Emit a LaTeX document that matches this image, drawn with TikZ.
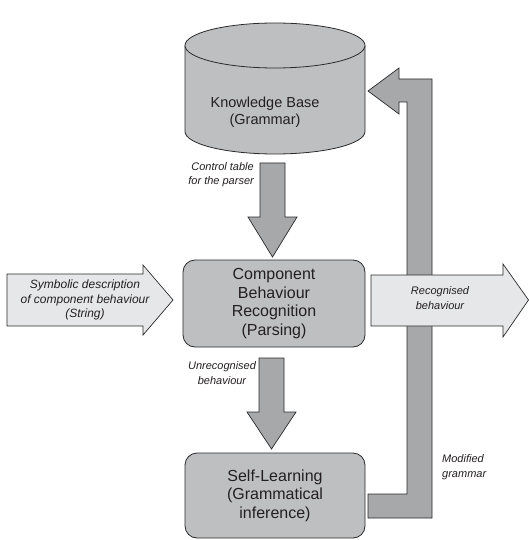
\documentclass[tikz,border=0pt]{standalone}
\usepackage{fontspec}
\setmainfont{Liberation Sans}
\definecolor{boxgrey}{HTML}{BEBFC1}
\definecolor{arrowgrey}{HTML}{A7A8AA}
\definecolor{lightgrey}{HTML}{E6E7E8}
\definecolor{edge}{HTML}{2A2A2A}
\definecolor{ink}{HTML}{231F20}
\tikzset{
  procbox/.style={draw=edge, line width=0.8pt, fill=boxgrey, rounded corners=12pt, text=ink,
    align=center, font=\fontsize{16}{18.5}\selectfont, inner sep=0pt},
  darkarrow/.style={draw=edge, line width=0.7pt, fill=arrowgrey, line join=miter},
  lightarrow/.style={draw=edge, line width=0.7pt, fill=lightgrey, line join=miter},
  cyl/.style={draw=edge, line width=0.8pt, fill=boxgrey},
  lbl/.style={text=ink, font=\fontsize{11}{14.5}\selectfont\itshape, inner sep=0pt},
  biglbl/.style={text=ink, font=\fontsize{12}{14.5}\selectfont\itshape, inner sep=0pt},
  maintext/.style={text=ink, align=center, font=\fontsize{14.5}{17}\selectfont, inner sep=0pt}
}
\begin{document}
\begin{tikzpicture}[x={(1pt,0)}, y={(0,-1pt)}]
\useasboundingbox (0,0) rectangle (529,540);
% feedback hook arrow (behind)
\draw[darkarrow] (368,91) -- (399,68) -- (399,79) -- (432,79) -- (432,518) -- (368,518)
  -- (368,494) -- (407,494) -- (407,102) -- (399,102) -- (399,114) -- cycle;
% knowledge base cylinder
\draw[cyl] (185,45.5) -- (185,131.5) arc[start angle=180, end angle=360, x radius=90pt, y radius=22.5pt]
  -- (365,45.5) arc[start angle=0, end angle=180, x radius=90pt, y radius=22.5pt] -- cycle;
\draw[cyl] (185,45.5) arc[start angle=180, end angle=360, x radius=90pt, y radius=22.5pt];
\node[maintext] (kb) at (265,112) {Knowledge Base\\(Grammar)};
% boxes
\node[procbox, minimum width=182pt, minimum height=87pt] (cbr) at (274,303.5)
  {Component\\Behaviour\\Recognition\\(Parsing)};
\node[procbox, minimum width=180pt, minimum height=85pt] (sl) at (275,495.5)
  {Self-Learning\\(Grammatical\\inference)};
% down arrows
\draw[darkarrow] (260,163) -- (285,163) -- (285,217) -- (297,217) -- (272.5,257) -- (248,217) -- (260,217) -- cycle;
\draw[darkarrow] (259,358) -- (284,358) -- (284,412) -- (296,412) -- (271.5,449) -- (247,412) -- (259,412) -- cycle;
% input arrow
\draw[lightarrow] (7,274) -- (143,274) -- (143,265) -- (173,300) -- (143,335) -- (143,326) -- (7,326) -- cycle;
% output arrow
\draw[lightarrow] (371,275) -- (503,275) -- (503,264) -- (528.5,300) -- (503,337) -- (503,326) -- (371,326) -- cycle;
% labels
\node[lbl, align=right, anchor=east] (ct) at (254,174.5) {Control table\\for the parser};
\node[lbl, align=center] (ur) at (222,373) {Unrecognised\\behaviour};
\node[lbl, align=left, anchor=west] (mg) at (442,467) {Modified\\grammar};
\node[biglbl, align=center] (sd) at (85,300) {Symbolic description\\of component behaviour\\(String)};
\node[lbl, align=center] (rb) at (440,298) {Recognised\\behaviour};
\end{tikzpicture}
\end{document}
